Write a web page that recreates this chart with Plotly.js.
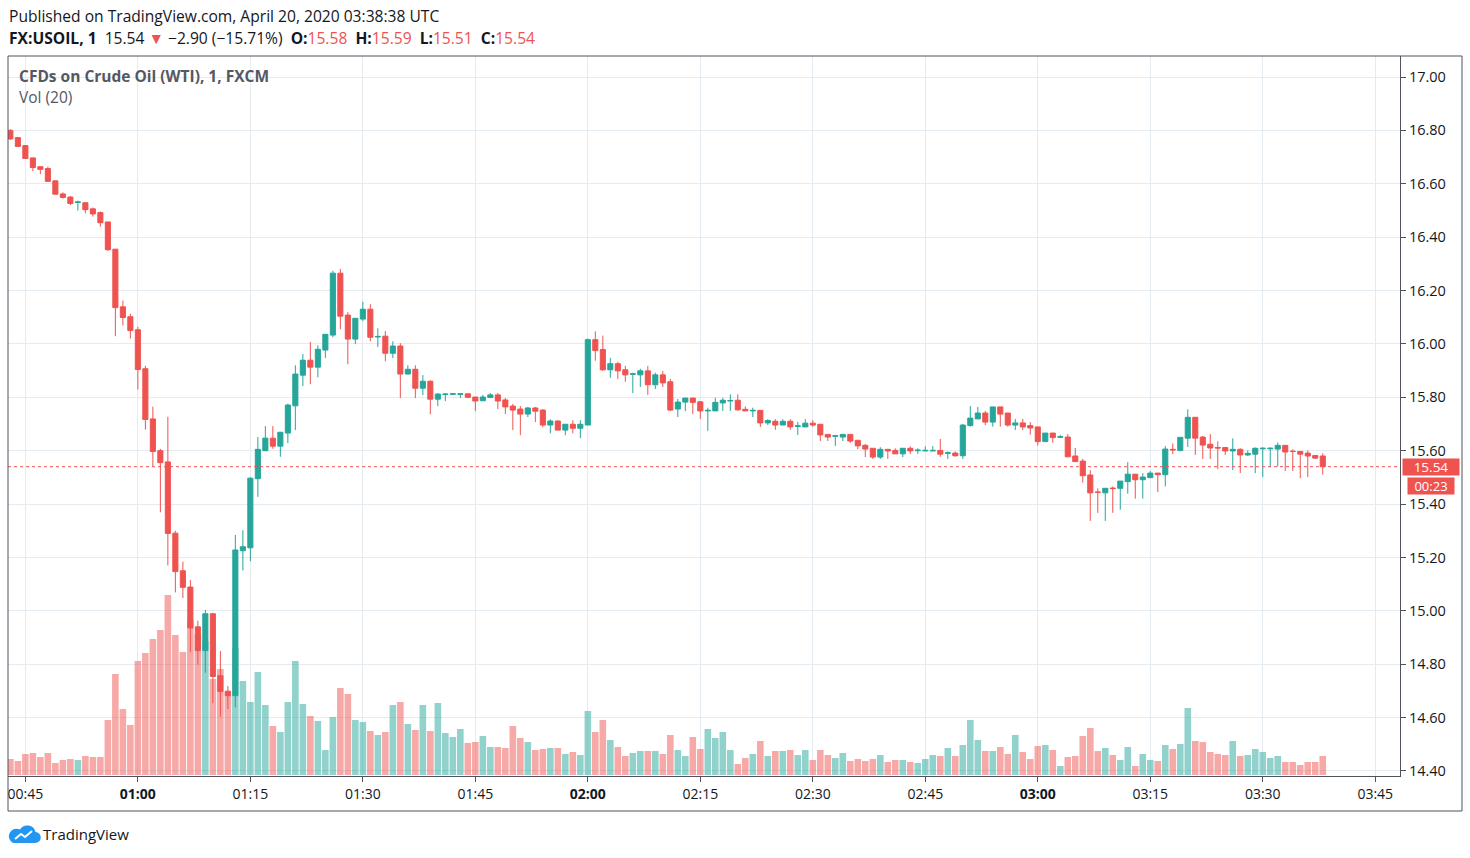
<!DOCTYPE html>
<html>
<head>
<meta charset="utf-8">
<script src="https://cdn.plot.ly/plotly-3.0.1.min.js"></script>
<style>html,body{margin:0;padding:0;background:#fff;}#chart{width:1470px;height:858px;}</style>
</head>
<body>
<div id="chart"></div>
<script>
const sessionDate = "2020-04-20";
const times = [
"00:43","00:44","00:45","00:46","00:47","00:48","00:49","00:50","00:51","00:52",
"00:53","00:54","00:55","00:56","00:57","00:58","00:59","01:00","01:01","01:02",
"01:03","01:04","01:05","01:06","01:07","01:08","01:09","01:10","01:11","01:12",
"01:13","01:14","01:15","01:16","01:17","01:18","01:19","01:20","01:21","01:22",
"01:23","01:24","01:25","01:26","01:27","01:28","01:29","01:30","01:31","01:32",
"01:33","01:34","01:35","01:36","01:37","01:38","01:39","01:40","01:41","01:42",
"01:43","01:44","01:45","01:46","01:47","01:48","01:49","01:50","01:51","01:52",
"01:53","01:54","01:55","01:56","01:57","01:58","01:59","02:00","02:01","02:02",
"02:03","02:04","02:05","02:06","02:07","02:08","02:09","02:10","02:11","02:12",
"02:13","02:14","02:15","02:16","02:17","02:18","02:19","02:20","02:21","02:22",
"02:23","02:24","02:25","02:26","02:27","02:28","02:29","02:30","02:31","02:32",
"02:33","02:34","02:35","02:36","02:37","02:38","02:39","02:40","02:41","02:42",
"02:43","02:44","02:45","02:46","02:47","02:48","02:49","02:50","02:51","02:52",
"02:53","02:54","02:55","02:56","02:57","02:58","02:59","03:00","03:01","03:02",
"03:03","03:04","03:05","03:06","03:07","03:08","03:09","03:10","03:11","03:12",
"03:13","03:14","03:15","03:16","03:17","03:18","03:19","03:20","03:21","03:22",
"03:23","03:24","03:25","03:26","03:27","03:28","03:29","03:30","03:31","03:32",
"03:33","03:34","03:35","03:36","03:37","03:38"
];
const open = [
16.800,16.773,16.743,16.697,16.664,16.657,16.611,16.562,16.550,16.530,
16.529,16.506,16.492,16.457,16.355,16.139,16.102,16.053,15.907,15.719,
15.600,15.558,15.291,15.150,15.089,14.940,14.851,14.989,14.757,14.699,
14.682,15.225,15.236,15.495,15.600,15.647,15.617,15.666,15.768,15.883,
15.939,15.913,15.977,16.033,16.265,16.108,16.018,16.093,16.130,16.026,
16.029,15.965,15.992,15.887,15.905,15.834,15.860,15.793,15.810,15.811,
15.811,15.813,15.801,15.787,15.799,15.809,15.790,15.767,15.756,15.737,
15.760,15.752,15.696,15.711,15.677,15.699,15.684,15.696,16.016,15.979,
15.903,15.926,15.903,15.886,15.884,15.899,15.847,15.884,15.858,15.756,
15.782,15.797,15.783,15.749,15.749,15.779,15.786,15.789,15.755,15.749,
15.751,15.704,15.710,15.696,15.710,15.691,15.689,15.703,15.699,15.661,
15.654,15.651,15.661,15.639,15.620,15.609,15.576,15.605,15.601,15.588,
15.609,15.600,15.599,15.599,15.601,15.590,15.591,15.581,15.694,15.719,
15.741,15.707,15.764,15.741,15.696,15.704,15.694,15.689,15.634,15.666,
15.650,15.651,15.580,15.561,15.509,15.445,15.442,15.460,15.459,15.484,
15.512,15.491,15.499,15.516,15.510,15.605,15.601,15.647,15.725,15.651,
15.624,15.612,15.612,15.599,15.605,15.584,15.587,15.607,15.607,15.606,
15.620,15.598,15.597,15.591,15.582,15.580
];
const high = [
16.805,16.775,16.745,16.697,16.664,16.664,16.611,16.568,16.555,16.537,
16.529,16.511,16.496,16.457,16.355,16.162,16.113,16.064,15.918,15.765,
15.607,15.727,15.300,15.184,15.115,14.963,15.003,14.992,14.849,14.718,
15.284,15.302,15.500,15.651,15.692,15.692,15.670,15.776,15.920,15.962,
16.007,15.995,16.036,16.274,16.281,16.119,16.096,16.158,16.149,16.059,
16.048,16.010,16.003,15.920,15.920,15.883,15.864,15.816,15.816,15.816,
15.816,15.814,15.801,15.809,15.816,15.816,15.797,15.775,15.767,15.764,
15.764,15.756,15.718,15.714,15.699,15.714,15.714,16.020,16.047,16.031,
15.948,15.933,15.918,15.892,15.907,15.918,15.892,15.899,15.869,15.794,
15.797,15.798,15.786,15.761,15.798,15.798,15.811,15.811,15.766,15.761,
15.751,15.718,15.718,15.718,15.718,15.708,15.718,15.714,15.699,15.661,
15.659,15.661,15.661,15.639,15.625,15.609,15.613,15.605,15.609,15.609,
15.616,15.609,15.616,15.617,15.644,15.597,15.597,15.700,15.767,15.764,
15.749,15.764,15.764,15.741,15.719,15.719,15.707,15.689,15.666,15.666,
15.659,15.662,15.610,15.569,15.527,15.459,15.459,15.466,15.486,15.557,
15.512,15.516,15.524,15.516,15.617,15.627,15.650,15.755,15.725,15.655,
15.662,15.635,15.612,15.646,15.609,15.601,15.612,15.612,15.612,15.631,
15.620,15.605,15.597,15.601,15.582,15.590
];
const low = [
16.765,16.738,16.695,16.647,16.636,16.609,16.561,16.545,16.520,16.500,
16.489,16.477,16.439,16.348,16.029,16.069,16.020,15.829,15.679,15.542,
15.369,15.170,15.069,15.048,14.845,14.798,14.768,14.654,14.603,14.632,
14.639,15.151,15.186,15.427,15.598,15.607,15.577,15.628,15.677,15.842,
15.849,15.875,15.947,16.025,16.055,15.924,15.999,16.085,16.010,15.988,
15.935,15.947,15.797,15.887,15.797,15.808,15.737,15.767,15.786,15.809,
15.797,15.797,15.748,15.787,15.799,15.756,15.737,15.677,15.658,15.726,
15.707,15.688,15.665,15.677,15.658,15.665,15.647,15.696,15.937,15.899,
15.873,15.869,15.858,15.816,15.839,15.809,15.831,15.839,15.748,15.726,
15.748,15.737,15.719,15.674,15.749,15.749,15.749,15.749,15.749,15.726,
15.689,15.696,15.678,15.696,15.678,15.659,15.689,15.689,15.636,15.636,
15.618,15.636,15.629,15.606,15.576,15.569,15.569,15.569,15.588,15.576,
15.588,15.588,15.598,15.598,15.577,15.569,15.577,15.569,15.690,15.719,
15.696,15.690,15.690,15.690,15.677,15.677,15.660,15.619,15.634,15.630,
15.650,15.577,15.559,15.480,15.337,15.367,15.337,15.367,15.379,15.439,
15.420,15.420,15.499,15.445,15.466,15.587,15.597,15.614,15.584,15.569,
15.569,15.531,15.584,15.527,15.516,15.580,15.516,15.501,15.538,15.541,
15.524,15.524,15.497,15.501,15.569,15.510
];
const close = [
16.768,16.740,16.695,16.661,16.654,16.609,16.561,16.549,16.526,16.532,
16.503,16.487,16.454,16.353,16.136,16.099,16.050,15.904,15.717,15.597,
15.555,15.290,15.147,15.088,14.936,14.851,14.989,14.754,14.698,14.682,
15.228,15.240,15.497,15.605,15.647,15.617,15.669,15.771,15.887,15.939,
15.913,15.980,16.036,16.265,16.104,16.018,16.096,16.130,16.025,16.028,
15.965,15.992,15.887,15.905,15.834,15.860,15.793,15.812,15.812,15.813,
15.813,15.800,15.786,15.801,15.809,15.786,15.764,15.752,15.737,15.760,
15.748,15.696,15.711,15.677,15.699,15.684,15.699,16.016,15.975,15.903,
15.926,15.899,15.884,15.888,15.899,15.847,15.884,15.854,15.752,15.782,
15.797,15.781,15.749,15.751,15.781,15.789,15.788,15.753,15.749,15.751,
15.704,15.713,15.696,15.710,15.689,15.693,15.703,15.696,15.659,15.651,
15.656,15.661,15.636,15.618,15.606,15.576,15.605,15.599,15.588,15.609,
15.599,15.602,15.601,15.601,15.587,15.592,15.581,15.696,15.722,15.741,
15.707,15.764,15.737,15.696,15.704,15.689,15.685,15.634,15.666,15.649,
15.652,15.577,15.559,15.506,15.442,15.444,15.459,15.458,15.486,15.512,
15.491,15.501,15.516,15.510,15.606,15.603,15.650,15.725,15.647,15.621,
15.610,15.610,15.599,15.605,15.584,15.590,15.609,15.609,15.609,15.620,
15.595,15.597,15.587,15.580,15.572,15.540
];
const volume = [
48,42,63,66,54,66,36,45,48,45,
57,54,54,165,303,198,150,342,366,408,
435,540,420,369,465,423,402,288,318,250,
381,282,219,309,210,147,129,219,342,213,
177,162,75,174,261,243,165,159,132,120,
129,210,219,153,135,210,132,216,126,114,
138,96,99,117,84,84,81,147,111,99,
75,78,81,81,63,69,60,192,129,165,
105,84,57,66,72,72,72,63,120,75,
57,114,78,138,111,129,75,33,51,63,
102,57,72,72,75,60,75,45,75,60,
51,66,42,48,42,48,60,39,45,45,
39,36,48,60,57,81,57,90,165,105,
72,72,84,63,120,69,48,87,90,75,
27,54,57,117,141,72,81,60,45,84,
27,63,45,42,90,78,93,201,102,99,
69,63,60,102,57,60,78,69,51,57,
39,39,30,39,39,57
];
const xTickTimes = ["00:45","01:00","01:15","01:30","01:45","02:00","02:15","02:30","02:45","03:00","03:15","03:30","03:45"];
const xTickLabels = ["00:45","<b>01:00</b>","01:15","01:30","01:45","<b>02:00</b>","02:15","02:30","02:45","<b>03:00</b>","03:15","03:30","03:45"];
const lastPrice = 15.54;
const lastPriceLabel = "15.54";
const countdownLabel = "00:23";

const UP = "#26a69a", DOWN = "#ef5350";
const x = times.map(t => sessionDate + " " + t);
const volColors = open.map((o, i) => close[i] >= o ? "rgba(38,166,154,0.5)" : "rgba(239,83,80,0.5)");

const volTrace = {
  type: "bar", x: x, y: volume, yaxis: "y", xaxis: "x",
  marker: {color: volColors, line: {width: 0}},
  hoverinfo: "skip", showlegend: false
};
const candleTrace = {
  type: "candlestick", x: x, open: open, high: high, low: low, close: close,
  xaxis: "x", yaxis: "y2",
  increasing: {line: {color: UP, width: 1}, fillcolor: UP},
  decreasing: {line: {color: DOWN, width: 1}, fillcolor: DOWN},
  whiskerwidth: 0, hoverinfo: "skip", showlegend: false
};

// pixel helpers (plot area: x 8..1400, y 56..776)
const L = 8, R = 1400, T = 56, B = 776;
const px = v => (v - L) / (R - L);
const py = v => (B - v) / (B - T);

const FONT = "'Open Sans', 'Noto Sans', sans-serif";
const axisColor = "#50535e";
const gridColor = "#e4ecf2";

const layout = {
  width: 1470, height: 858,
  margin: {l: L, r: 1470 - R, t: T, b: 858 - B, pad: 0},
  paper_bgcolor: "#ffffff", plot_bgcolor: "#ffffff",
  font: {family: FONT, color: "#131722", size: 13},
  showlegend: false,
  bargap: 0.12,
  boxgap: 0.2, boxgroupgap: 0.15,
  xaxis: {
    type: "date",
    range: [sessionDate + " 00:42:41", sessionDate + " 03:48:18"],
    tickvals: xTickTimes.map(t => sessionDate + " " + t),
    ticktext: xTickLabels,
    showgrid: true, gridcolor: gridColor, gridwidth: 1,
    ticks: "outside", ticklen: 5, tickcolor: axisColor,
    showline: true, linecolor: axisColor, linewidth: 1,
    tickfont: {size: 14, color: "#131722"},
    rangeslider: {visible: false},
    fixedrange: true, zeroline: false
  },
  yaxis: {
    range: [-3, 2157], visible: false, showgrid: false, zeroline: false, fixedrange: true
  },
  yaxis2: {
    overlaying: "y", side: "right", anchor: "x",
    range: [14.3811, 17.0787],
    tick0: 14.4, dtick: 0.2, tickformat: ".2f",
    showgrid: true, gridcolor: gridColor, gridwidth: 1,
    ticks: "outside", ticklen: 5, tickcolor: axisColor,
    showline: true, linecolor: axisColor, linewidth: 1,
    tickfont: {size: 14.5, color: "#131722"},
    zeroline: false, fixedrange: true
  },
  shapes: [
    {type: "line", xref: "paper", yref: "y2", x0: 0, x1: 1, y0: lastPrice, y1: lastPrice,
     line: {color: DOWN, width: 1, dash: "dot"}},
    {type: "rect", xref: "paper", yref: "paper", x0: 0, x1: px(1462), y0: py(811), y1: 1,
     line: {color: axisColor, width: 1}, fillcolor: "rgba(0,0,0,0)"}
  ],
  annotations: [
    {xref: "paper", yref: "paper", x: px(7), y: py(16), xanchor: "left", yanchor: "middle", showarrow: false,
     text: "Published on TradingView.com, April 20, 2020 03:38:38 UTC",
     font: {size: 15.6, color: "#131722", family: FONT}},
    {xref: "paper", yref: "paper", x: px(7), y: py(38), xanchor: "left", yanchor: "middle", showarrow: false,
     text: "<b>FX:USOIL, 1</b>  15.54 <span style='color:#ef5350'>▼</span> −2.90 (−15.71%)  <b>O:</b><span style='color:#ef5350'>15.58</span>  <b>H:</b><span style='color:#ef5350'>15.59</span>  <b>L:</b><span style='color:#ef5350'>15.51</span>  <b>C:</b><span style='color:#ef5350'>15.54</span>",
     font: {size: 15.6, color: "#131722", family: FONT}},
    {xref: "paper", yref: "paper", x: px(17), y: py(76), xanchor: "left", yanchor: "middle", showarrow: false,
     text: "<b>CFDs on Crude Oil (WTI), 1, FXCM</b>",
     font: {size: 15.5, color: "#555862", family: FONT}},
    {xref: "paper", yref: "paper", x: px(17), y: py(97), xanchor: "left", yanchor: "middle", showarrow: false,
     text: "Vol (20)",
     font: {size: 15.5, color: "#555862", family: FONT}},
    {xref: "paper", yref: "y2", x: px(1431), y: lastPrice, xanchor: "center", yanchor: "middle", showarrow: false,
     text: lastPriceLabel, bgcolor: DOWN, width: 54, height: 14, borderpad: 1,
     font: {size: 13.5, color: "#ffffff", family: FONT}},
    {xref: "paper", yref: "paper", x: px(1431), y: py(486), xanchor: "center", yanchor: "middle", showarrow: false,
     text: countdownLabel, bgcolor: DOWN, width: 44, height: 14, borderpad: 1,
     font: {size: 13, color: "#ffffff", family: FONT}},
    {xref: "paper", yref: "paper", x: px(41), y: py(834), xanchor: "left", yanchor: "middle", showarrow: false,
     text: "TradingView",
     font: {size: 15, color: "#131722", family: FONT}}
  ],
  images: [
    {source: "data:image/svg+xml;utf8," + encodeURIComponent(
      "<svg xmlns='http://www.w3.org/2000/svg' width='34' height='20' viewBox='0 0 34 20'>" +
      "<path d='M6 19 H28 A5.5 5.5 0 0 0 28.5 8 A8.5 8.5 0 0 0 13 5.5 A6.5 6.5 0 0 0 6 19 Z' fill='#2196f3'/>" +
      "<path d='M8 15 L14 10 L18 13 L25 7' stroke='#ffffff' stroke-width='2' fill='none' stroke-linejoin='round'/>" +
      "</svg>"),
     xref: "paper", yref: "paper", x: px(7), y: py(824), sizex: 34 / (R - L), sizey: 20 / (B - T),
     xanchor: "left", yanchor: "top", sizing: "stretch", layer: "above"}
  ]
};

Plotly.newPlot("chart", [volTrace, candleTrace], layout, {displayModeBar: false, staticPlot: true});
</script>
</body>
</html>
